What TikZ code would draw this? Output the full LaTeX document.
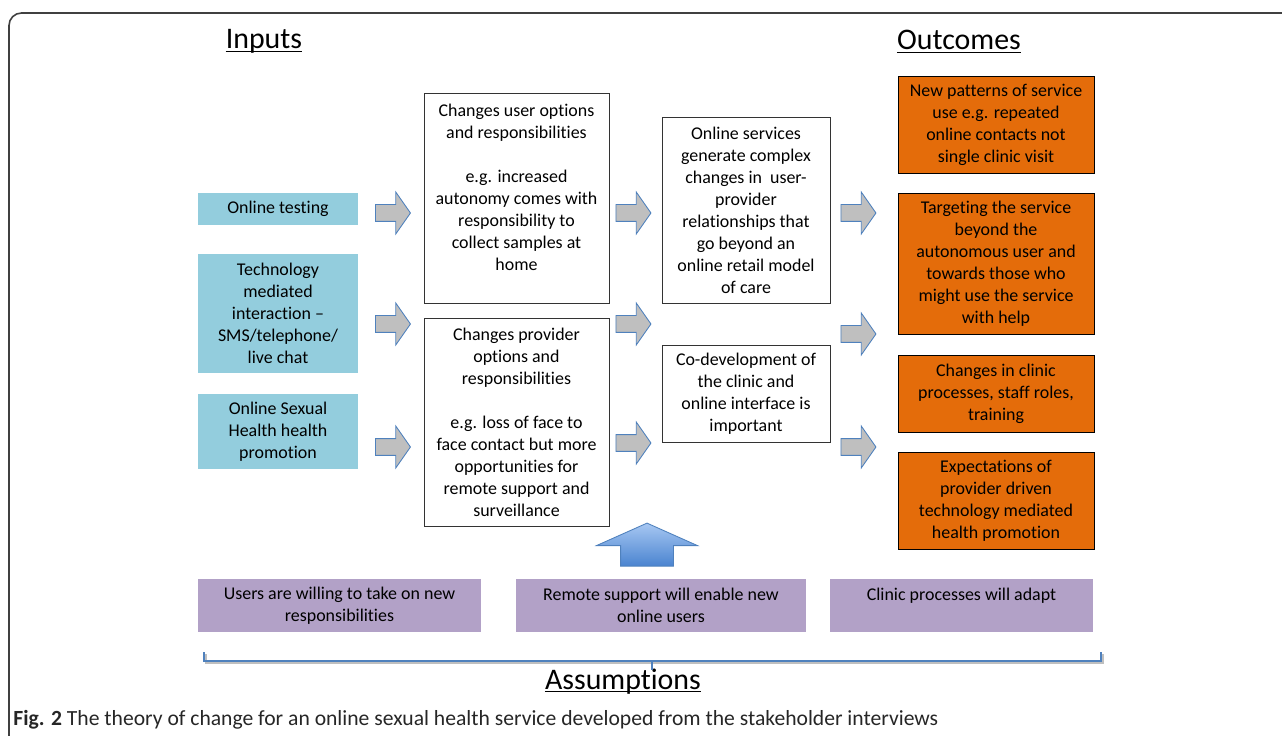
\documentclass[tikz,border=0pt]{standalone}
\usepackage{fontspec}
\setmainfont{Carlito}[Ligatures=NoCommon]
\usetikzlibrary{shapes.arrows}

\definecolor{inputblue}{HTML}{93CDDD}
\definecolor{outorange}{HTML}{E46C0A}
\definecolor{assumpurple}{HTML}{B2A1C7}
\definecolor{arrowgray}{HTML}{BFBFBF}
\definecolor{edgeblue}{HTML}{4F81BD}
\definecolor{uplight}{HTML}{A7C7F2}
\definecolor{updark}{HTML}{4A84D0}

\begin{document}
\begin{tikzpicture}[
    x=0.02cm, y=-0.02cm,
    % Style for every text box
    box/.style={rectangle, align=center, inner sep=0pt,
        font=\fontsize{10.2}{12.5}\selectfont},
    % Input, middle, outcome and assumption boxes
    input/.style={box, fill=inputblue, minimum width=3.2cm},
    middle/.style={box, draw=black!80, line width=0.5pt, fill=white},
    outcome/.style={box, draw=black, line width=0.5pt, fill=outorange, minimum width=3.92cm},
    assume/.style={box, fill=assumpurple, minimum height=1.06cm},
    % Style for the small grey block arrows
    flow/.style={single arrow, draw=edgeblue, fill=arrowgray, line width=0.5pt,
        inner xsep=0pt, inner ysep=0.16cm, single arrow head extend=0.25cm,
        single arrow tip angle=110, minimum height=0.7cm},
    % Titles
    heading/.style={inner sep=0pt, anchor=base, font=\fontsize{17}{20}\selectfont}
]

    \useasboundingbox (0,0) rectangle (1282,736);

    % --- 1. Frame ---
    \draw[black!75, line width=0.9pt, rounded corners=0.25cm] (9,736) -- (9,13) -- (1282,13);

    % --- 2. Titles ---
    \node[heading] (inputs) at (264,49) {Inputs};
    \node[heading] (outcomes) at (959,50) {Outcomes};
    \node[heading] (assumptions) at (623,689) {Assumptions};
    \foreach \t in {inputs, outcomes, assumptions}
        \draw[line width=0.6pt] ([yshift=-1.6pt]\t.base west) -- ([yshift=-1.6pt]\t.base east);

    % --- 3. Inputs ---
    \node[input, minimum height=0.64cm] (test) at (278,209) {Online testing};
    \node[input, minimum height=2.38cm] (tech) at (278,313.5)
        {Technology\\ mediated\\ interaction --\\ SMS/telephone/\\ live chat};
    \node[input, minimum height=1.5cm] (promo) at (278,431.5)
        {Online Sexual\\ Health health\\ promotion};

    % --- 4. Middle boxes ---
    \node[middle, minimum width=3.7cm, minimum height=4.2cm] (user) at (516.5,198)
        {Changes user options\\ and responsibilities\\ \mbox{}\\ e.g. increased\\
         autonomy comes with\\ responsibility to\\ collect samples at\\ home\\ \mbox{}};
    \node[middle, minimum width=3.7cm, minimum height=4.16cm] (prov) at (516.5,422)
        {Changes provider\\ options and\\ responsibilities\\ \mbox{}\\ e.g. loss of face to\\
         face contact but more\\ opportunities for\\ remote support and\\ surveillance};
    \node[middle, minimum width=3.36cm, minimum height=3.72cm] (online) at (746,210)
        {Online services\\ generate complex\\ changes in\ \ user-\\ provider\\
         relationships that\\ go beyond an\\ online retail model\\ of care};
    \node[middle, minimum width=3.36cm, minimum height=1.94cm] (codev) at (746,393.5)
        {Co-development of\\ the clinic and\\ online interface is\\ important};

    % --- 5. Outcomes ---
    \node[outcome, minimum height=1.94cm] (out1) at (996,124.5)
        {New patterns of service\\ use e.g. repeated\\ online contacts not\\ single clinic visit};
    \node[outcome, minimum height=2.82cm] (out2) at (996,263.5)
        {Targeting the service\\ beyond the\\ autonomous user and\\ towards those who\\
         might use the service\\ with help};
    \node[outcome, minimum height=1.54cm] (out3) at (996,393.5)
        {Changes in clinic\\ processes, staff roles,\\ training};
    \node[outcome, minimum height=1.94cm] (out4) at (996,500.5)
        {Expectations of\\ provider driven\\ technology mediated\\ health promotion};

    % --- 6. Grey arrows ---
    \foreach \n/\x/\y in {a1/390/213, a2/390/324, a3/390/447,
                         b1/630.5/213, b2/630.5/324, b3/630.5/443,
                         c1/855.5/213, c2/855.5/334, c3/855.5/447}
        \node[flow] (\n) at (\x,\y) {};

    % --- 7. Assumptions ---
    \node[assume, minimum width=5.66cm] (as1) at (339.5,605.5)
        {Users are willing to take on new\\ responsibilities};
    \node[assume, minimum width=5.8cm] (as2) at (661,605.5)
        {Remote support will enable new\\ online users};
    \node[assume, minimum width=5.26cm] (as3) at (961.5,605.5)
        {Clinic processes will adapt\\ \mbox{}};

    % Big blue arrow pointing up
    \node[single arrow, rotate=90, draw=edgeblue, line width=0.5pt,
        top color=uplight, bottom color=updark,
        inner xsep=0pt, inner ysep=0.52cm, single arrow head extend=0.48cm,
        single arrow tip angle=132, minimum height=0.86cm] (up) at (647,550.5) {};

    % --- 8. Bracket ---
    \coordinate (brL) at (204,652);
    \coordinate (brR) at (1101,652);
    \coordinate (brM) at (652,661);
    \draw[black!25, line width=1.6pt] ([shift={(2,2)}]brL) -- ++(0,9) -| ([shift={(2,2)}]brR);
    \draw[edgeblue, line width=1.6pt] (brL) -- ++(0,9) -| (brR);
    \draw[edgeblue, line width=1.6pt] (brM) -- ++(0,9);

    % --- 9. Caption ---
    \node[anchor=west, inner sep=0pt, text=black!85, font=\fontsize{12.3}{14}\selectfont]
        (caption) at (13,720)
        {\textbf{Fig. 2} The theory of change for an online sexual health service developed from the stakeholder interviews};

\end{tikzpicture}
\end{document}
